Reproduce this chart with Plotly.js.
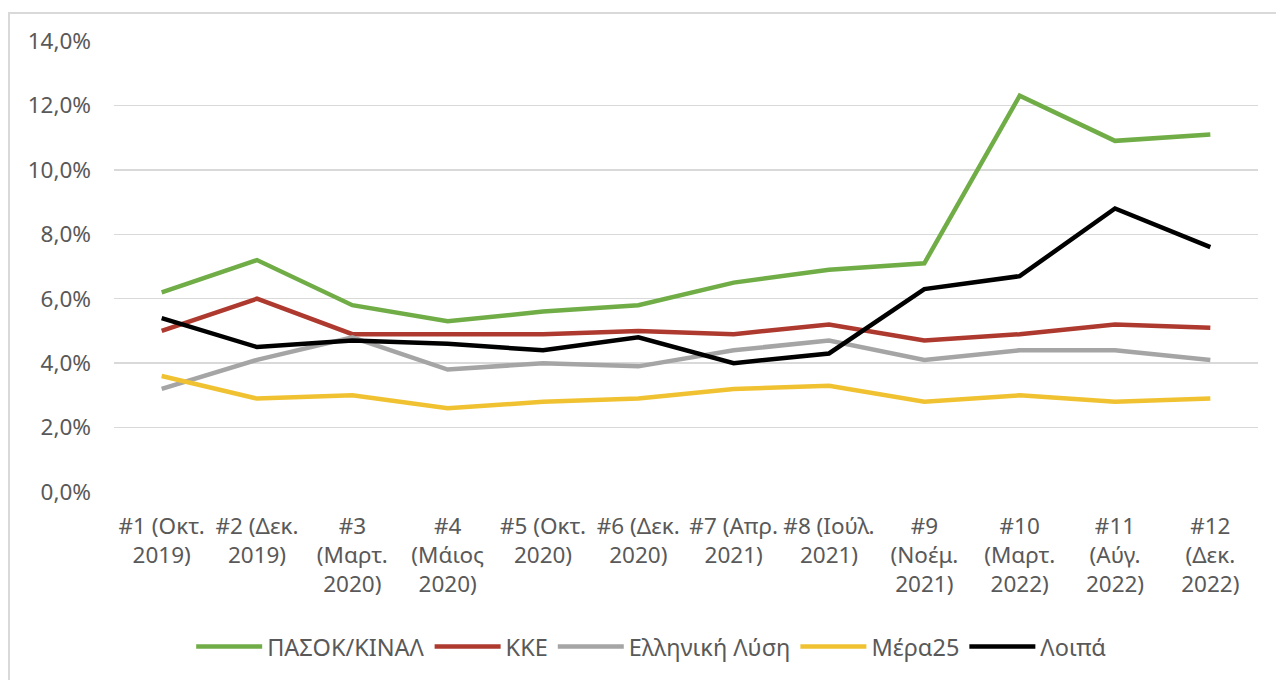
<!DOCTYPE html>
<html>
<head>
<meta charset="utf-8">
<script src="https://cdn.plot.ly/plotly-3.0.1.min.js"></script>
<style>
html,body{margin:0;padding:0;background:#fff;overflow:hidden;}
#frame{position:absolute;left:8px;top:12px;width:1400px;height:800px;border:2px solid #d9d9d9;box-sizing:border-box;}
#chart{position:absolute;left:0;top:0;width:1276px;height:680px;}
</style>
</head>
<body>
<div id="frame"></div>
<div id="chart"></div>
<script>
const categories = [
  "#1 (Οκτ.<br>2019)", "#2 (Δεκ.<br>2019)", "#3<br>(Μαρτ.<br>2020)", "#4<br>(Μάιος<br>2020)",
  "#5 (Οκτ.<br>2020)", "#6 (Δεκ.<br>2020)", "#7 (Απρ.<br>2021)", "#8 (Ιούλ.<br>2021)",
  "#9<br>(Νοέμ.<br>2021)", "#10<br>(Μαρτ.<br>2022)", "#11<br>(Αύγ.<br>2022)", "#12<br>(Δεκ.<br>2022)"
];
const seriesNames = ["ΠΑΣΟΚ/ΚΙΝΑΛ", "ΚΚΕ", "Ελληνική Λύση", "Μέρα25", "Λοιπά"];
const pasok = [6.2, 7.2, 5.8, 5.3, 5.6, 5.8, 6.5, 6.9, 7.1, 12.3, 10.9, 11.1];
const kke = [5.0, 6.0, 4.9, 4.9, 4.9, 5.0, 4.9, 5.2, 4.7, 4.9, 5.2, 5.1];
const ellLysi = [3.2, 4.1, 4.8, 3.8, 4.0, 3.9, 4.4, 4.7, 4.1, 4.4, 4.4, 4.1];
const mera25 = [3.6, 2.9, 3.0, 2.6, 2.8, 2.9, 3.2, 3.3, 2.8, 3.0, 2.8, 2.9];
const loipa = [5.4, 4.5, 4.7, 4.6, 4.4, 4.8, 4.0, 4.3, 6.3, 6.7, 8.8, 7.6];
const yTickVals = [0, 2, 4, 6, 8, 10, 12, 14];
const yTickText = ["0,0%", "2,0%", "4,0%", "6,0%", "8,0%", "10,0%", "12,0%", "14,0%"];

const colors = ["#70ad47", "#ae3a2f", "#a5a5a5", "#f0c232", "#000000"];
const values = [pasok, kke, ellLysi, mera25, loipa];
const idx = categories.map((c, i) => i);

const traces = values.map((v, k) => ({
  type: "scatter",
  mode: "lines",
  name: seriesNames[k],
  x: idx,
  y: v,
  line: {color: colors[k], width: 4.5},
  hoverinfo: "skip"
}));

const font = {family: "'Segoe UI', 'Noto Sans', 'Open Sans', sans-serif", color: "#595959", size: 22.5};

const layout = {
  width: 1276, height: 680,
  paper_bgcolor: "rgba(0,0,0,0)",
  plot_bgcolor: "rgba(0,0,0,0)",
  margin: {l: 114, r: 18, t: 41, b: 187},
  font: font,
  showlegend: true,
  legend: {
    orientation: "h", x: 0.47, xanchor: "center", y: -0.34, yanchor: "middle",
    font: Object.assign({}, font, {size: 23.5}), itemwidth: 66, traceorder: "normal", bgcolor: "rgba(0,0,0,0)"
  },
  xaxis: {
    type: "linear", range: [-0.5, 11.5],
    tickmode: "array", tickvals: idx, ticktext: categories,
    showgrid: false, zeroline: false, showline: false, ticks: "",
    ticklabelstandoff: 18,
    tickfont: font, tickangle: 0, fixedrange: true
  },
  yaxis: {
    range: [0, 14], tickmode: "array", tickvals: yTickVals, ticktext: yTickText,
    showgrid: true, gridcolor: "#d9d9d9", gridwidth: 1.5,
    zeroline: false, showline: false, ticks: "", ticklabelstandoff: 22,
    tickfont: font, fixedrange: true
  }
};

Plotly.newPlot("chart", traces, layout, {displayModeBar: false, staticPlot: true});
</script>
</body>
</html>
